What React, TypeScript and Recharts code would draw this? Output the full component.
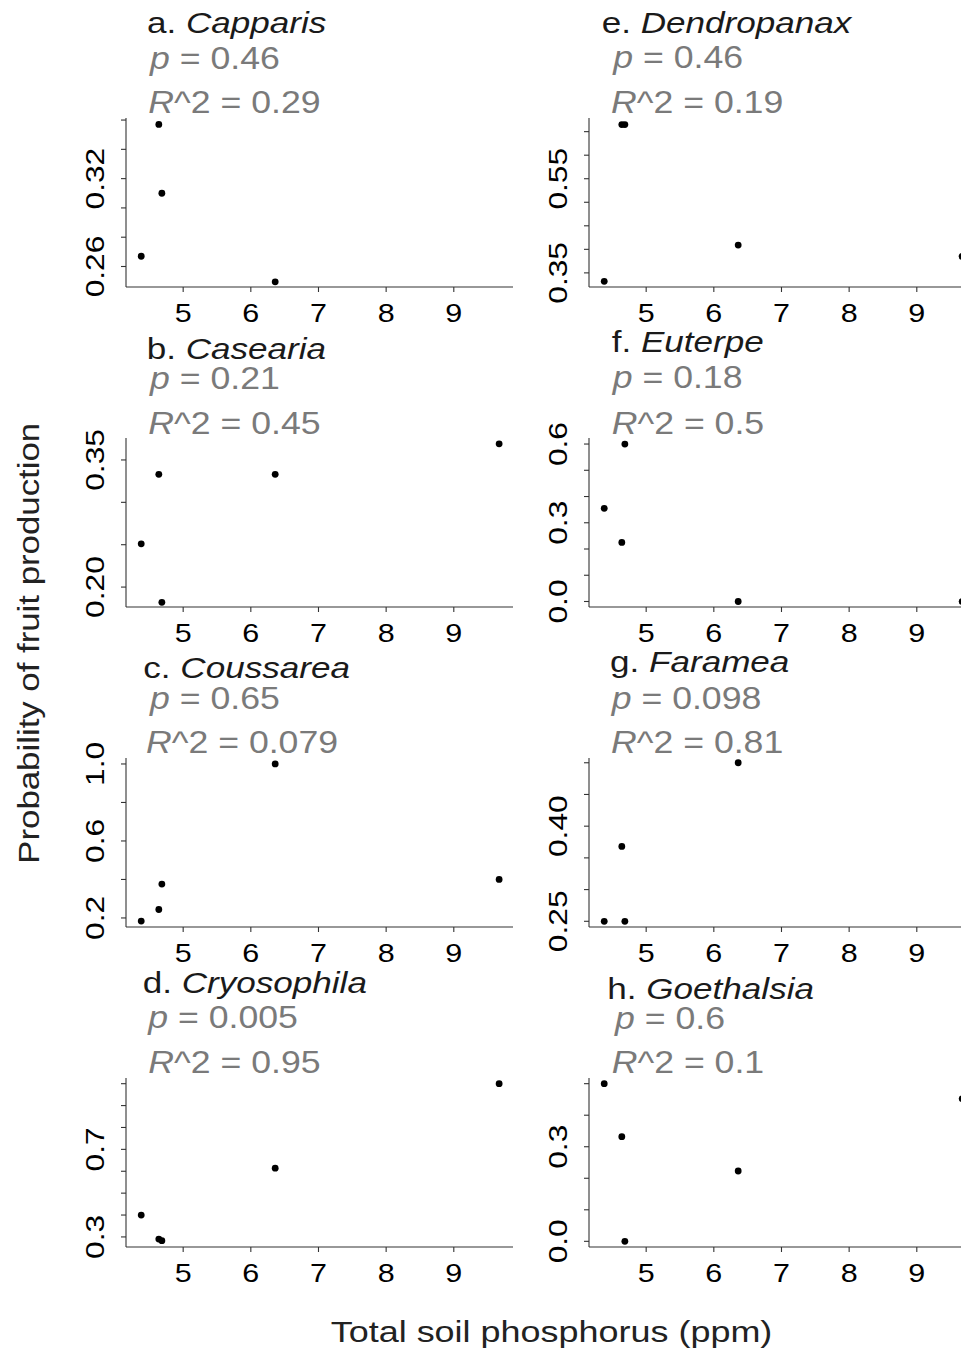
import { ScatterChart, Scatter, XAxis, YAxis } from "recharts";

const FONT = "'Liberation Sans', Arial, sans-serif";

// total soil P (ppm) of the five plots, shared by every genus
const phosphorus = [4.38, 4.64, 4.685, 6.36, 9.67];

// probability of fruit production, one value per plot (null = genus absent)
const capparis = [0.267, 0.357, 0.31, 0.2495, null];
const casearia = [0.251, 0.333, 0.182, 0.333, 0.369];
const coussarea = [0.184, 0.244, 0.376, 1.0, 0.4];
const cryosophila = [0.4, 0.29, 0.283, 0.614, 1.0];
const dendropanax = [0.332, 0.665, 0.665, 0.409, 0.385];
const euterpe = [0.355, 0.225, 0.6, 0.0, 0.0];
const faramea = [0.25, 0.368, 0.25, 0.5, null];
const goethalsia = [0.5, 0.332, 0.0, 0.223, 0.452];

const genera = ["Capparis", "Casearia", "Coussarea", "Cryosophila", "Dendropanax", "Euterpe", "Faramea", "Goethalsia"];
const letters = ["a", "b", "c", "d", "e", "f", "g", "h"];
const pValues = ["0.46", "0.21", "0.65", "0.005", "0.46", "0.18", "0.098", "0.6"];
const r2Values = ["0.29", "0.45", "0.079", "0.95", "0.19", "0.5", "0.81", "0.1"];

const xTicks = [5, 6, 7, 8, 9];
const xDomain = [4.155, 9.875];

const yDomains = [
  [0.246, 0.3614],
  [0.1765, 0.3759],
  [0.153, 1.031],
  [0.254, 1.026],
  [0.32, 0.679],
  [-0.021, 0.623],
  [0.241, 0.5075],
  [-0.018, 0.518],
];
const yTicks = [
  [0.26, 0.28, 0.3, 0.32, 0.34, 0.36],
  [0.2, 0.25, 0.3, 0.35],
  [0.2, 0.4, 0.6, 0.8, 1.0],
  [0.3, 0.4, 0.5, 0.6, 0.7, 0.8, 0.9, 1.0],
  [0.35, 0.4, 0.45, 0.5, 0.55, 0.6, 0.65],
  [0.0, 0.1, 0.2, 0.3, 0.4, 0.5, 0.6],
  [0.25, 0.3, 0.35, 0.4, 0.45, 0.5],
  [0.0, 0.1, 0.2, 0.3, 0.4, 0.5],
];
const yLabels = [
  ["0.26", "0.32"],
  ["0.20", "0.35"],
  ["0.2", "0.6", "1.0"],
  ["0.3", "0.7"],
  ["0.35", "0.55"],
  ["0.0", "0.3", "0.6"],
  ["0.25", "0.40"],
  ["0.0", "0.3"],
];

const series = [capparis, casearia, coussarea, cryosophila, dendropanax, euterpe, faramea, goethalsia];

// page layout (pixels)
const PLOT_W = 387;
const PLOT_H = 169;
const Y_AXIS_W = 60;
const X_AXIS_H = 45;
const M_TOP = 30;
const M_RIGHT = 10;
const colX = [126, 588.7];
const rowTop = [118, 437.5, 758, 1078.3];
const titleX = [147, 146.7, 143.3, 142.7, 601.7, 611.7, 610, 607.3];
const titleY = [32.7, 359.3, 678.3, 992.7, 32.7, 351.7, 671.7, 999.3];
const pX = [150, 150, 150, 148.3, 613.3, 612.7, 611.7, 615];
const pY = [69.3, 389, 709.3, 1028.3, 68.3, 388.3, 709.3, 1029.3];
const rX = [148.3, 148.3, 146, 148.3, 611, 611.7, 611, 611.7];
const rY = [112.7, 434, 753.3, 1072.7, 113.3, 434, 753.3, 1073.3];

const AXIS = "#333333";

const WideText = ({ x, y, size, sx, rotate = 0, anchor = "start", fill = "#1a1a1a", baseline, children }: any) => (
  <text
    transform={`translate(${x},${y}) rotate(${rotate}) scale(${sx},1)`}
    fontSize={size}
    fontFamily={FONT}
    textAnchor={anchor}
    dominantBaseline={baseline}
    fill={fill}
  >
    {children}
  </text>
);

const XTick = ({ x, y, payload }: any) => (
  <WideText x={x} y={y + 21} size={25} sx={1.22} anchor="middle" baseline="central" fill="#000">
    {payload.value}
  </WideText>
);

const makeYTick = (labels: string[]) => ({ x, y, payload }: any) => {
  const lab = labels.find((l) => Math.abs(parseFloat(l) - payload.value) < 1e-9);
  if (lab === undefined) return <g />;
  return (
    <WideText x={x - 26} y={y} size={26} sx={1.22} rotate={-90} anchor="middle" baseline="central" fill="#000">
      {lab}
    </WideText>
  );
};

const Dot = (props: any) => <circle cx={props.cx} cy={props.cy} r={3.4} fill="#000" />;

const Panel = ({ i }: { i: number }) => {
  const col = i < 4 ? 0 : 1;
  const row = i % 4;
  const data = phosphorus
    .map((x, k) => ({ x, y: series[i][k] }))
    .filter((d) => d.y !== null);
  return (
    <div style={{ position: "absolute", left: colX[col] - Y_AXIS_W, top: rowTop[row] - M_TOP }}>
      <ScatterChart
        width={Y_AXIS_W + PLOT_W + M_RIGHT}
        height={M_TOP + PLOT_H + X_AXIS_H}
        margin={{ top: M_TOP, right: M_RIGHT, bottom: 0, left: 0 }}
      >
        <XAxis
          type="number"
          dataKey="x"
          domain={xDomain}
          ticks={xTicks}
          interval={0}
          allowDataOverflow
          height={X_AXIS_H}
          tickSize={5}
          tickMargin={0}
          axisLine={{ stroke: AXIS, strokeWidth: 1.1 }}
          tickLine={{ stroke: AXIS, strokeWidth: 1.1 }}
          tick={XTick}
        />
        <YAxis
          type="number"
          dataKey="y"
          domain={yDomains[i]}
          ticks={yTicks[i]}
          interval={0}
          allowDataOverflow
          width={Y_AXIS_W}
          tickSize={5}
          tickMargin={0}
          axisLine={{ stroke: AXIS, strokeWidth: 1.1 }}
          tickLine={{ stroke: AXIS, strokeWidth: 1.1 }}
          tick={makeYTick(yLabels[i])}
        />
        <Scatter data={data} shape={Dot} isAnimationActive={false} />
      </ScatterChart>
    </div>
  );
};

export default function App() {
  return (
    <div style={{ position: "relative", width: 969, height: 1356, margin: -8, overflow: "hidden", background: "#fff" }}>
      <style>{"html{overflow:hidden}"}</style>
      {genera.map((_, i) => (
        <Panel key={i} i={i} />
      ))}
      <svg width={969} height={1356} style={{ position: "absolute", left: 0, top: 0, pointerEvents: "none" }}>
        {genera.map((g, i) => (
          <g key={g}>
            <WideText x={titleX[i]} y={titleY[i]} size={30} sx={1.17} fill="#1a1a1a">
              {letters[i]}. <tspan fontStyle="italic">{g}</tspan>
            </WideText>
            <WideText x={pX[i]} y={pY[i]} size={31} sx={1.15} fill="#7a7a7a">
              <tspan fontStyle="italic">p</tspan> = {pValues[i]}
            </WideText>
            <WideText x={rX[i]} y={rY[i]} size={31} sx={1.15} fill="#7a7a7a">
              <tspan fontStyle="italic">R</tspan>^2 = {r2Values[i]}
            </WideText>
          </g>
        ))}
        <WideText x={29} y={643.3} size={29} sx={1.2} rotate={-90} anchor="middle" baseline="central" fill="#222">
          Probability of fruit production
        </WideText>
        <WideText x={551.5} y={1341.7} size={29} sx={1.24} anchor="middle" fill="#222">
          Total soil phosphorus (ppm)
        </WideText>
      </svg>
    </div>
  );
}
